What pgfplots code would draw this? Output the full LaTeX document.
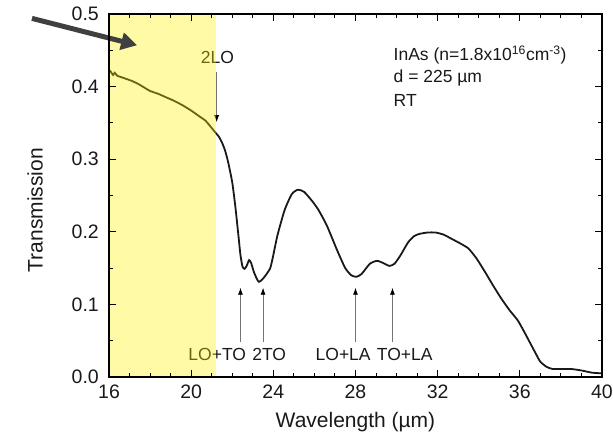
\documentclass[border=0pt]{standalone}
\usepackage{fontspec}
\setmainfont{Liberation Sans}
\usepackage{pgfplots}
\pgfplotsset{compat=1.18}
\usetikzlibrary{arrows.meta}

\pgfplotstableread{
x y
16.00 0.423
16.10 0.420
16.20 0.416
16.28 0.419
16.40 0.415
16.60 0.413
16.80 0.411
17.10 0.408
17.40 0.404
17.70 0.399
18.00 0.394
18.40 0.390
18.80 0.385
19.20 0.380
19.60 0.374
20.00 0.367
20.40 0.359
20.70 0.353
21.00 0.343
21.20 0.336
21.35 0.331
21.50 0.323
21.65 0.312
21.80 0.296
22.00 0.268
22.15 0.235
22.30 0.195
22.40 0.168
22.50 0.152
22.60 0.149
22.70 0.153
22.82 0.161
22.92 0.157
23.05 0.145
23.20 0.135
23.30 0.131
23.45 0.134
23.60 0.139
23.85 0.150
24.00 0.168
24.20 0.195
24.55 0.230
24.90 0.252
25.20 0.258
25.50 0.255
25.90 0.242
26.20 0.230
26.60 0.209
27.10 0.175
27.50 0.150
27.80 0.140
28.05 0.138
28.30 0.142
28.70 0.156
29.05 0.160
29.35 0.157
29.65 0.153
29.90 0.156
30.20 0.168
30.55 0.185
30.85 0.194
31.10 0.197
31.50 0.199
31.90 0.199
32.30 0.196
32.70 0.190
33.10 0.184
33.50 0.177
33.90 0.163
34.30 0.145
34.70 0.126
35.10 0.108
35.50 0.092
35.90 0.078
36.20 0.063
36.50 0.047
36.80 0.031
37.00 0.021
37.30 0.014
37.60 0.011
38.00 0.011
38.50 0.011
39.00 0.009
39.50 0.006
40.00 0.005
}\spectrum

\newcommand\annfont{\fontsize{17.5}{17.5}\selectfont}
\tikzset{
  phonon/.style={black!55, line width=0.8pt, -{Latex[length=7pt,width=5pt,black]}},
  lbl/.style={font=\annfont, text=black!90, inner sep=0pt},
}

\begin{document}
\begin{tikzpicture}
\begin{axis}[
  scale only axis, width=493pt, height=363pt,
  xmin=16, xmax=40, ymin=0, ymax=0.5,
  xtick={16,20,...,40}, minor x tick num=3,
  ytick={0,0.1,0.2,0.3,0.4,0.5}, minor y tick num=1,
  tick align=inside, major tick length=7pt, minor tick length=4pt,
  axis line style={line width=1.2pt},
  tick style={black, line width=1pt},
  axis on top, clip=false,
  /pgf/number format/assume math mode=true,
  yticklabel style={/pgf/number format/fixed,
    /pgf/number format/fixed zerofill, /pgf/number format/precision=1},
  ticklabel style={font=\fontsize{19.5}{19.5}\selectfont, text=black!90},
  xticklabel style={inner sep=0pt, anchor=north, yshift=-8pt},
  yticklabel style={inner sep=0pt, anchor=east, xshift=-10pt},
  xlabel={Wavelength (µm)}, ylabel={Transmission},
  label style={font=\fontsize{21}{21}\selectfont, inner sep=0pt, text=black!90},
  xlabel style={at={(rel axis cs:0.5,0)}, anchor=base, yshift=-51pt},
  ylabel style={at={(rel axis cs:0,0.46)}, anchor=south, yshift=66pt},
]
% page extent
\path (axis cs:10.693,0.5193) rectangle (axis cs:40.537,-0.0813);

\addplot[black!90, line width=1.8pt, smooth, tension=0.35] table[x=x, y=y] {\spectrum};

% phonon assignments
\draw[phonon] (axis cs:21.24,0.420) -- (axis cs:21.24,0.351);
\node[lbl, anchor=base] at (axis cs:21.28,0.4325) {2LO};

\draw[phonon] (axis cs:22.4,0.048) -- (axis cs:22.4,0.123);
\draw[phonon] (axis cs:23.5,0.048) -- (axis cs:23.5,0.123);
\draw[phonon] (axis cs:28.0,0.048) -- (axis cs:28.0,0.123);
\draw[phonon] (axis cs:29.8,0.048) -- (axis cs:29.8,0.123);
\node[lbl, anchor=base] at (axis cs:21.27,0.0234) {LO+TO};
\node[lbl, anchor=base] at (axis cs:23.80,0.0234) {2TO};
\node[lbl, anchor=base] at (axis cs:27.40,0.0234) {LO+LA};
\node[lbl, anchor=base] at (axis cs:30.40,0.0234) {TO+LA};

% sample description
\node[lbl, anchor=west] at (axis cs:29.85,0.4435)
  {InAs (n=1.8x10\textsuperscript{16}cm\textsuperscript{-3})};
\node[lbl, anchor=west] at (axis cs:29.85,0.4118) {d = 225 µm};
\node[lbl, anchor=west] at (axis cs:29.85,0.3810) {RT};

% highlighted band
\fill[yellow, fill opacity=0.35] (axis cs:16,0) rectangle (axis cs:21.21,0.5);

% pointer
\draw[black!75, line width=5pt, -{Triangle[length=16pt,width=17pt]}]
  (axis cs:12.25,0.494) -- (axis cs:17.37,0.457);
\end{axis}
\end{tikzpicture}
\end{document}
